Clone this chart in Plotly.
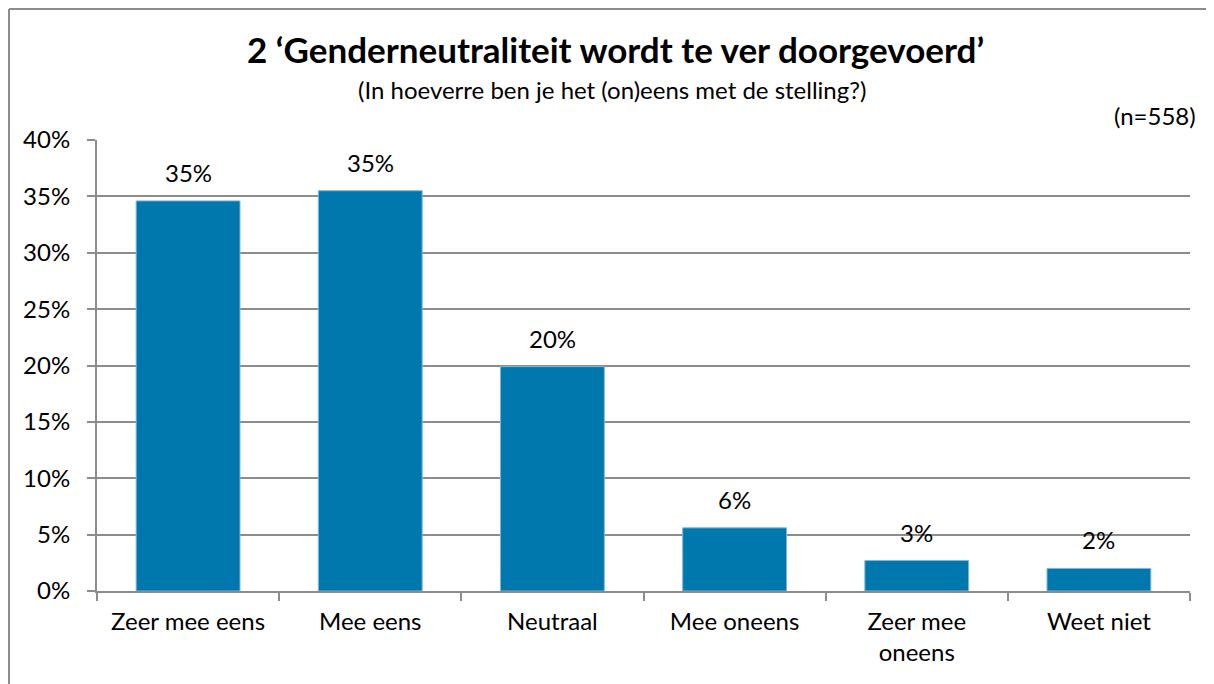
import plotly.graph_objects as go

categories = ["Zeer mee eens", "Mee eens", "Neutraal", "Mee oneens", "Zeer mee<br>oneens", "Weet niet"]
values = [34.6, 35.5, 19.9, 5.6, 2.7, 2.0]
labels = ["35%", "35%", "20%", "6%", "3%", "2%"]
y_ticks = [0, 5, 10, 15, 20, 25, 30, 35, 40]
y_tick_text = [f"{t}%" for t in y_ticks]

FONT = "Lato, Carlito, Calibri, sans-serif"
GRID = "#8c8c8c"
OFF = 8  # default page body margin

W, H = 1214 - OFF, 684 - OFF
# screen coords of plot area: x 97..1190, y 140..591
L, R, T, B = 97 - OFF, 1214 - 1190, 140 - OFF, 684 - 591
pw, ph = W - L - R, H - T - B

def px(x):
    return (x - OFF - L) / pw

def py(y):
    return (H - B - (y - OFF)) / ph

fig = go.Figure()
fig.add_trace(go.Bar(
    x=categories, y=values,
    marker=dict(color="#0077AD", line=dict(color="#7fb8d6", width=1)),
    width=0.57,
))

annotations = [
    dict(x=c, y=v, text=t, xref="x", yref="y", showarrow=False,
         yanchor="bottom", yshift=12, font=dict(size=24, family=FONT, color="black"))
    for c, v, t in zip(categories, values, labels)
]
annotations += [
    dict(text="<b>2 ‘Genderneutraliteit wordt te ver doorgevoerd’</b>",
         xref="paper", yref="paper", x=px(615), y=py(49), xanchor="center", yanchor="middle",
         showarrow=False, font=dict(size=35, family=FONT, color="black")),
    dict(text="(In hoeverre ben je het (on)eens met de stelling?)",
         xref="paper", yref="paper", x=px(612), y=py(89), xanchor="center", yanchor="middle",
         showarrow=False, font=dict(size=24, family=FONT, color="black")),
    dict(text="(n=558)",
         xref="paper", yref="paper", x=px(1198), y=py(115), xanchor="right", yanchor="middle",
         showarrow=False, font=dict(size=24, family=FONT, color="black")),
]

fig.update_layout(
    width=W, height=H,
    margin=dict(l=L, r=R, t=T, b=B),
    paper_bgcolor="white", plot_bgcolor="white",
    showlegend=False,
    font=dict(family=FONT, color="black"),
    xaxis=dict(
        showline=True, linecolor=GRID, linewidth=2,
        ticks="outside", tickson="boundaries", ticklen=8, tickcolor=GRID, tickwidth=2,
        tickfont=dict(size=24, family=FONT, color="black"),
        ticklabelstandoff=8,
        showgrid=False,
    ),
    yaxis=dict(
        range=[0, 40], tickvals=y_ticks, ticktext=y_tick_text,
        showline=True, linecolor=GRID, linewidth=2,
        ticks="outside", ticklen=8, tickcolor=GRID, tickwidth=2,
        showgrid=True, gridcolor=GRID, gridwidth=2,
        tickfont=dict(size=24, family=FONT, color="black"),
        ticklabelstandoff=12,
        zeroline=False,
    ),
    annotations=annotations,
    shapes=[
        dict(type="line", xref="paper", yref="paper",
             x0=px(9), x1=px(1214), y0=py(9), y1=py(9),
             line=dict(color="#8c8c8c", width=2), layer="below"),
        dict(type="line", xref="paper", yref="paper",
             x0=px(9), x1=px(9), y0=py(9), y1=py(684),
             line=dict(color="#8c8c8c", width=2), layer="below"),
    ],
)

fig.write_html("out.html", config={"displayModeBar": False})
